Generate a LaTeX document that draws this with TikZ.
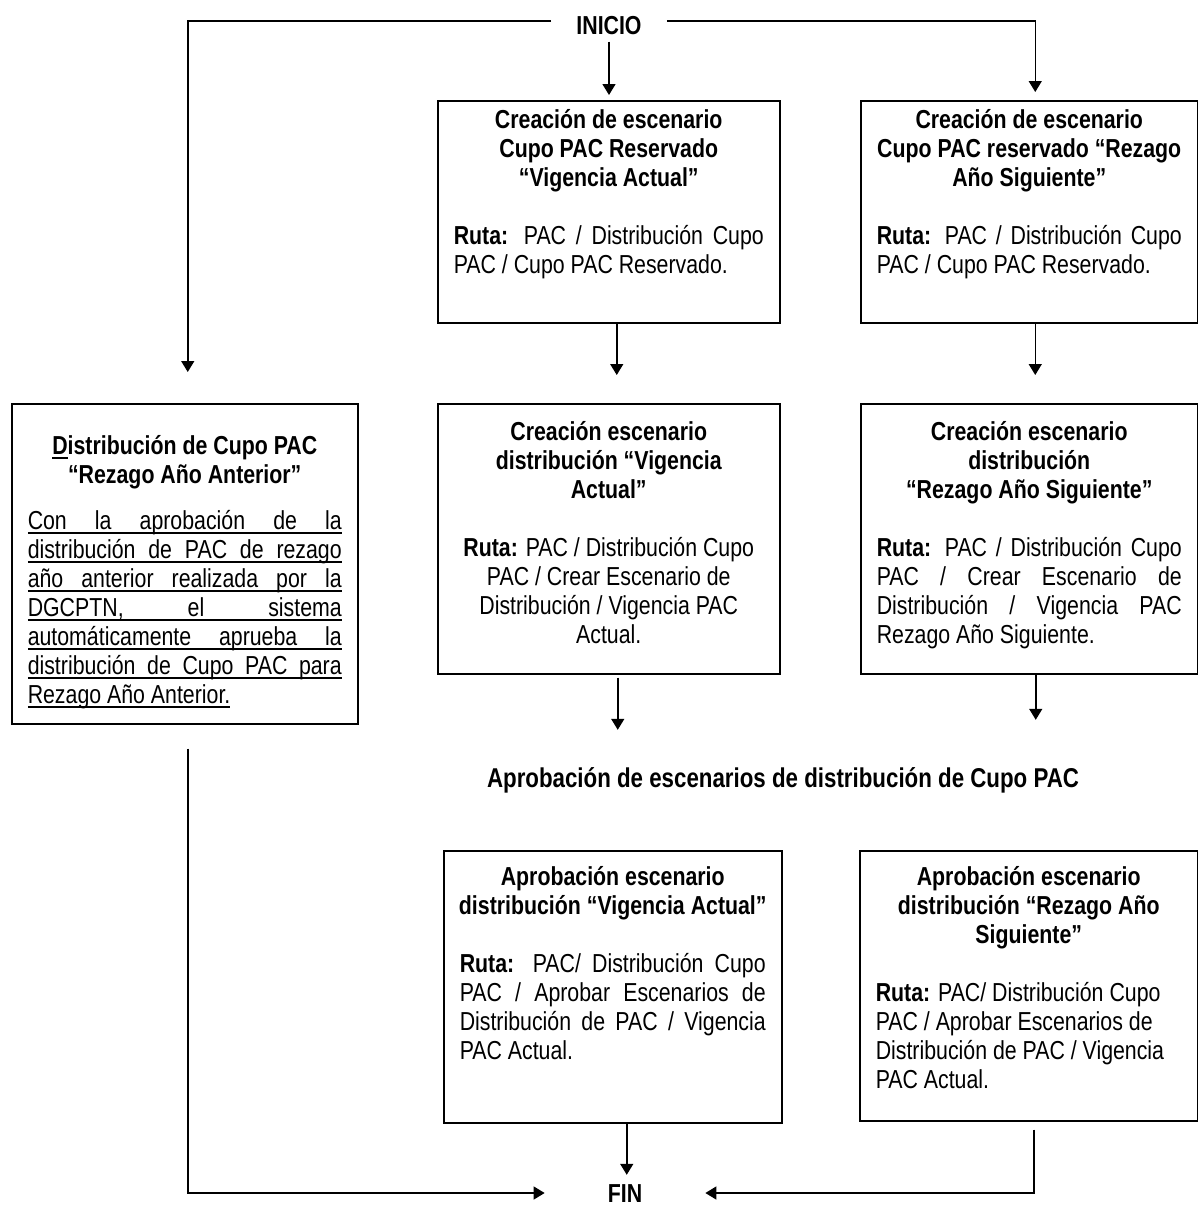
\documentclass[tikz,border=0pt]{standalone}
\usepackage{fontspec}
\setmainfont{Liberation Sans}[FakeStretch=0.82]
\usetikzlibrary{arrows.meta,calc}
\newcommand\dgfont{\fontsize{26pt}{29pt}\selectfont}
\newcommand\J[1]{\makebox[\linewidth][s]{#1}\\}
\newcommand\UL[1]{\sbox0{#1}\rlap{\rule[-4.5pt]{\wd0}{1.6pt}}\box0}
\newcommand\JU[1]{\makebox[\linewidth][s]{\rlap{\rule[-4.5pt]{\linewidth}{1.6pt}}#1}\\}
\begin{document}
\begin{tikzpicture}[x=1pt,y=-1pt,
  box/.style={draw, line width=1.5pt, anchor=north west, inner xsep=16pt, inner ysep=0pt, font=\dgfont},
  lbl/.style={font=\dgfont\bfseries, text height=18.6pt, text depth=0pt, inner ysep=0pt},
  arr/.style={line width=1.5pt, -{Triangle[width=13pt,length=11pt]}},
  ln/.style={line width=1.5pt}]
\path[fill=white,use as bounding box] (0,0) rectangle (1198,1211);

% terminal labels
\node[lbl, inner xsep=25pt] (i) at (609,25) {INICIO};
\node[lbl, inner xsep=63pt] (f) at (625,1193) {FIN};
\node[lbl, inner xsep=0pt, font=\fontsize{27.2pt}{30pt}\selectfont\bfseries] (h) at (783,778) {Aprobación de escenarios de distribución de Cupo PAC};

% row 1
\node[box] (a1) at (437,100) {\parbox[c][222pt][t]{310pt}{\vspace*{7pt}%
  {\centering\bfseries\strut Creación de escenario\\Cupo PAC Reservado\\“Vigencia Actual”\par}\vspace{29pt}%
  \J{\textbf{Ruta:} PAC / Distribución Cupo}PAC / Cupo PAC Reservado.}};
\node[box] (b1) at (860,100) {\parbox[c][222pt][t]{305pt}{\vspace*{7pt}%
  {\centering\bfseries\strut Creación de escenario\\Cupo PAC reservado “Rezago\\Año Siguiente”\par}\vspace{29pt}%
  \J{\textbf{Ruta:} PAC / Distribución Cupo}PAC / Cupo PAC Reservado.}};

% row 2
\node[box] (l) at (11,403) {\parbox[c][320pt][t]{314pt}{\vspace*{30pt}%
  {\centering\bfseries\strut\UL{D}istribución de Cupo PAC\\“Rezago Año Anterior”\par}\vspace{17pt}%
  \JU{Con la aprobación de la}\JU{distribución de PAC de rezago}\JU{año anterior realizada por la}%
  \JU{DGCPTN, el sistema}\JU{automáticamente aprueba la}\JU{distribución de Cupo PAC para}%
  \UL{Rezago Año Anterior.}}};
\node[box] (a2) at (437,403) {\parbox[c][270pt][t]{310pt}{\vspace*{16pt}%
  {\centering\bfseries\strut Creación escenario\\distribución “Vigencia\\Actual”\par}\vspace{29pt}%
  {\centering\textbf{Ruta:} PAC / Distribución Cupo\\PAC / Crear Escenario de\\Distribución / Vigencia PAC\\Actual.\par}}};
\node[box] (b2) at (860,403) {\parbox[c][270pt][t]{305pt}{\vspace*{16pt}%
  {\centering\bfseries\strut Creación escenario\\distribución\\“Rezago Año Siguiente”\par}\vspace{29pt}%
  \J{\textbf{Ruta:} PAC / Distribución Cupo}\J{PAC / Crear Escenario de}\J{Distribución / Vigencia PAC}Rezago Año Siguiente.}};

% row 3
\node[box] (a3) at (443,850) {\parbox[c][272pt][t]{306pt}{\vspace*{14pt}%
  {\centering\bfseries\strut Aprobación escenario\\\makebox[\linewidth]{distribución “Vigencia Actual”}\par}\vspace{29pt}%
  \J{\textbf{Ruta:} PAC/ Distribución Cupo}\J{PAC / Aprobar Escenarios de}\J{Distribución de PAC / Vigencia}PAC Actual.}};
\node[box] (b3) at (859,850) {\parbox[c][270pt][t]{306pt}{\vspace*{14pt}%
  {\centering\bfseries\strut Aprobación escenario\\distribución “Rezago Año\\Siguiente”\par}\vspace{29pt}%
  {\raggedright\textbf{Ruta:} PAC/ Distribución Cupo\\PAC / Aprobar Escenarios de\\Distribución de PAC / Vigencia\\PAC Actual.\par}}};

% connectors
\coordinate (lin) at ($(l.north)+(3,-31)$);
\coordinate (b1in) at ($(b1.north)+(6,-8)$);
\draw[arr] ($(i.west)+(0,-4)$) -| (lin);
\draw[arr] ($(i.east)+(0,-4)$) -| (b1in);
\draw[arr, shorten <=7pt, shorten >=5pt] (i.south) -- (i.south |- a1.north);

\coordinate (a1o) at ($(a1.south)+(8,0)$);
\coordinate (b1o) at ($(b1.south)+(6,0)$);
\draw[arr, shorten >=28pt] (a1o) -- (a1o |- a2.north);
\draw[arr, shorten >=28pt] (b1o) -- (b1o |- b2.north);

\coordinate (a2o) at ($(a2.south)+(9,3)$);
\coordinate (b2o) at ($(b2.south)+(6.5,0)$);
\draw[arr, shorten >=38.7pt] (a2o) -- (a2o |- h.north);
\draw[arr, shorten >=48.7pt] (b2o) -- (b2o |- h.north);

\coordinate (a3o) at ($(a3.south)+(14,0)$);
\draw[arr, shorten >=8.7pt] (a3o) -- (a3o |- f.north);

\coordinate (lo) at ($(l.south)+(3,24)$);
\coordinate (b3o) at ($(b3.south)+(5,8)$);
\draw[arr] (lo) |- (f.west);
\draw[arr] (b3o) |- (f.east);
\end{tikzpicture}
\end{document}
